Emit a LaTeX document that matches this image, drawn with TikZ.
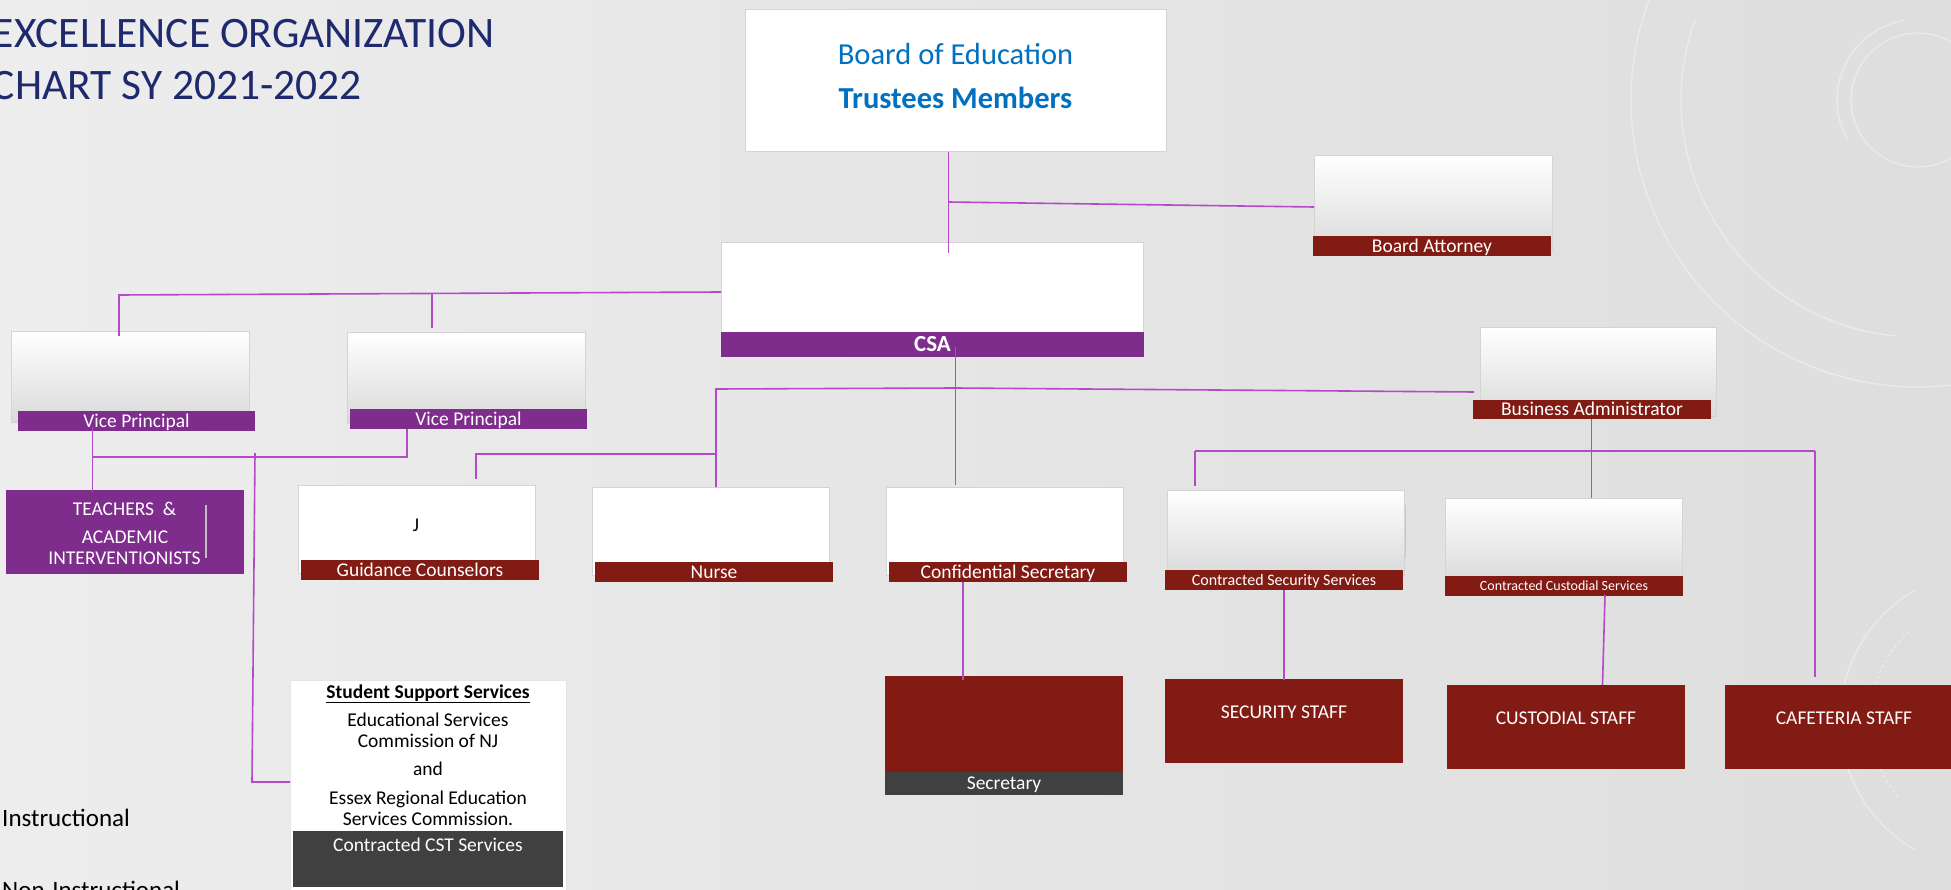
\documentclass[tikz,border=0pt]{standalone}
\usepackage{fontspec}
\setmainfont{Carlito}
\usetikzlibrary{calc}
\definecolor{chartred}{HTML}{821B14}
\definecolor{chartpurple}{HTML}{7F2D8D}
\definecolor{linkline}{HTML}{B54AC9}
\definecolor{titlenavy}{HTML}{1F2A6E}
\definecolor{boardblue}{HTML}{0070C0}
\definecolor{boxedge}{HTML}{D4D4D4}
\definecolor{gradlow}{HTML}{DADADA}
\definecolor{darkbar}{HTML}{404040}
\newcommand\fsize[1]{\fontsize{#1}{#1}\selectfont}
\tikzset{
  conn/.style={draw=linkline, line width=1.6pt},
  plainbox/.style={draw=boxedge, line width=1pt, fill=white, inner sep=0pt, outer sep=0pt},
  gradbox/.style={draw=boxedge, line width=1pt, top color=white, bottom color=gradlow, inner sep=0pt, outer sep=0pt},
  barlabel/.style={inner sep=0pt, outer sep=0pt, text=white, font=\fsize{19.5}, text height=12.6pt, text depth=0pt},
  redbar/.style={barlabel, fill=chartred},
  purplebar/.style={barlabel, fill=chartpurple},
  redblock/.style={fill=chartred, inner sep=0pt, outer sep=0pt},
  whitetext/.style={text=white, font=\fsize{19.5}, inner sep=0pt},
  darktext/.style={text=black, font=\fsize{19.5}, inner sep=0pt},
  deco/.style={draw=white, opacity=0.35, line width=1.5pt},
}
\begin{document}
\begin{tikzpicture}[x=1pt,y=-1pt]
\useasboundingbox (0,0) rectangle (1951,890);
% backdrop
\shade[left color=black!7, right color=black!13] (0,0) rectangle (1951,890);
\draw[deco] (1918,100) circle[radius=67];
\draw[deco] (1918,100) circle[radius=287];
\draw[deco] (1918,100) ++(150:81) arc[start angle=150, end angle=260, radius=81];
\draw[deco] (1918,100) ++(95:237) arc[start angle=95, end angle=200, radius=237];
\draw[deco] (1990,720) ++(120:150) arc[start angle=120, end angle=240, radius=150];
\draw[deco, dashed] (1990,720) ++(140:120) arc[start angle=140, end angle=230, radius=120];

% title
\node[anchor=base east, text=titlenavy, font=\fsize{43.5}, inner sep=0pt] (title1) at (495,48) {EXCELLENCE ORGANIZATION};
\node[anchor=base east, text=titlenavy, font=\fsize{43.5}, inner sep=0pt] (title2) at (362,100) {CHART SY 2021-2022};

% legend words
\node[anchor=base west, darktext, font=\fsize{25}] (instr) at (2,826) {Instructional};
\node[anchor=base west, darktext, font=\fsize{25}] (noninstr) at (2,898) {Non-Instructional};

% board
\node[plainbox, minimum width=421pt, minimum height=142pt] (board) at (955.5,81) {};
\node[anchor=base, text=boardblue, font=\fsize{30.5}, inner sep=0pt] (boardT1) at (955.5,65) {Board of Education};
\node[anchor=base, text=boardblue, font=\fsize{30.5}\bfseries, inner sep=0pt] (boardT2) at (955.5,109) {Trustees Members};

% board attorney
\node[gradbox, minimum width=238pt, minimum height=94pt] (attBox) at (1433,203) {};
\node[redbar, minimum width=238pt, minimum height=20pt] (attBar) at (1432,246) {Board Attorney};

% CSA
\node[plainbox, minimum width=422pt, minimum height=97pt] (csaBox) at (932,291.5) {};
\node[purplebar, minimum width=423pt, minimum height=25pt, font=\fsize{23}\bfseries, text height=14.8pt] (csaBar) at (932.5,344.5) {CSA};

% vice principals
\node[gradbox, minimum width=238pt, minimum height=90pt] (vp1Box) at (130,377) {};
\node[purplebar, minimum width=237pt, minimum height=20pt] (vp1Bar) at (136.5,421) {Vice Principal};
\node[gradbox, minimum width=238pt, minimum height=90pt] (vp2Box) at (466,378) {};
\node[purplebar, minimum width=237pt, minimum height=20pt] (vp2Bar) at (468.5,419) {Vice Principal};

% business administrator
\node[gradbox, minimum width=236pt, minimum height=88pt] (baBox) at (1598,372) {};
\node[redbar, minimum width=238pt, minimum height=19pt] (baBar) at (1592,409.5) {Business Administrator};

% teachers
\node[fill=chartpurple, minimum width=238pt, minimum height=84pt, inner sep=0pt, outer sep=0pt] (teach) at (125,532) {};
\node[anchor=base, whitetext] (teachT1) at (124.5,515) {TEACHERS\ \ \&};
\node[anchor=base, whitetext] (teachT2) at (125,543) {ACADEMIC};
\node[anchor=base, whitetext] (teachT3) at (124.5,564) {INTERVENTIONISTS};
\draw[draw=black!25, line width=1.2pt] ($(teach.north west)+(200,15)$) -- ($(teach.north west)+(200,68)$);

% second row under CSA
\node[plainbox, minimum width=237pt, minimum height=88pt] (guidBox) at (416.5,529) {};
\node[anchor=base, darktext] (guidJ) at (416,531) {J};
\node[redbar, minimum width=238pt, minimum height=20pt] (guidBar) at (420,570) {Guidance Counselors};
\node[plainbox, minimum width=237pt, minimum height=88pt] (nurseBox) at (710.5,531) {};
\node[redbar, minimum width=238pt, minimum height=20pt] (nurseBar) at (714,572) {Nurse};
\node[plainbox, minimum width=237pt, minimum height=88pt] (confBox) at (1004.5,531) {};
\node[redbar, minimum width=238pt, minimum height=20pt] (confBar) at (1008,572) {Confidential Secretary};

% contracted services
\node[gradbox, minimum width=237pt, minimum height=85pt] (secBox) at (1285.5,532.5) {};
\draw[draw=black!22, line width=1.2pt] ($(secBox.north east)+(1.5,15)$) -- ($(secBox.north east)+(1.5,68)$);
\node[redbar, minimum width=238pt, minimum height=20pt, font=\fsize{16}, text height=10.3pt] (secBar) at (1284,580) {Contracted Security Services};
\node[gradbox, minimum width=237pt, minimum height=84pt] (custBox) at (1563.5,540) {};
\node[redbar, minimum width=238pt, minimum height=20pt, font=\fsize{14}, text height=9pt] (custBar) at (1564,586) {Contracted Custodial Services};

% staff row
\node[redblock, minimum width=238pt, minimum height=96pt] (secretary) at (1004,724) {};
\node[barlabel, fill=darkbar, minimum width=238pt, minimum height=23pt] (secretaryBar) at (1004,783.5) {Secretary};
\node[redblock, minimum width=238pt, minimum height=84pt] (secStaff) at (1284,721) {};
\node[anchor=base, whitetext] (secStaffT) at (1284,718) {SECURITY STAFF};
\node[redblock, minimum width=238pt, minimum height=84pt] (custStaff) at (1566,727) {};
\node[anchor=base, whitetext] (custStaffT) at (1566,724) {CUSTODIAL STAFF};
\node[redblock, minimum width=238pt, minimum height=84pt] (cafStaff) at (1844,727) {};
\node[anchor=base, whitetext] (cafStaffT) at (1844,724) {CAFETERIA STAFF};

% student support services
\node[plainbox, draw=black!10, minimum width=276pt, minimum height=225pt] (sss) at (428,792.5) {};
\node[fill=darkbar, minimum width=270pt, minimum height=56pt, inner sep=0pt, outer sep=0pt] (sssBar) at (428,859) {};
\node[anchor=base, darktext, font=\fsize{19.5}\bfseries] (sssT0) at (428,698) {\underline{Student Support Services}};
\node[anchor=base, darktext] (sssT1) at (428,726) {Educational Services};
\node[anchor=base, darktext] (sssT2) at (428,747) {Commission of NJ};
\node[anchor=base, darktext] (sssT3) at (428,775) {and};
\node[anchor=base, darktext] (sssT4) at (428,804) {Essex Regional Education};
\node[anchor=base, darktext] (sssT5) at (428,825) {Services Commission.};
\node[anchor=base, whitetext] (sssT6) at (428,851) {Contracted CST Services};

% junction points of the connector buses
\coordinate (bj) at (948.6,202);
\coordinate (lj) at (119,295);
\coordinate (lj2) at (432,294);
\coordinate (cj) at (955.5,388);
\coordinate (nj) at (716,389);
\coordinate (gj) at (716,454);
\coordinate (gk) at (476,454);
\coordinate (tj) at (92.5,457);
\coordinate (vj) at (407,457);
\coordinate (sj) at (255,453);
\coordinate (sk) at (252,782);
\coordinate (sc) at (963,630);
\coordinate (bj2) at (1591.6,451);
\coordinate (sw) at (1195,451);
\coordinate (se) at (1815,451);
\coordinate (ss) at (1284,630);

% connectors
\draw[conn] (board.south -| bj) -- ($(csaBox.north -| bj)+(0,10)$);
\draw[conn] (bj) -- ($(attBox.west)+(0,4)$);
\draw[conn] ($(csaBox.west)+(0,0.5)$) -- (lj) -- ($(vp1Box.north -| lj)+(0,4)$);
\draw[conn] (lj2) -- ($(vp2Box.north -| lj2)+(0,-5)$);
\draw[conn] ($(csaBar.south -| cj)+(0,-10)$) -- ($(confBox.north -| cj)+(0,-2)$);
\draw[conn] (cj) -- (nj) -- (nurseBox.north -| nj);
\draw[conn] (gj) -- (gk) -- ($(guidBox.north -| gk)+(0,-6)$);
\draw[conn] (cj) -- ($(baBar.north west)+(1,-8)$);
\draw[conn] ($(vp1Bar.south -| tj)+(0,-4)$) -- ($(teach.north -| tj)+(0,2)$);
\draw[conn] (tj) -- (vj) -- (vp2Bar.south -| vj);
\draw[conn] (sj) -- (sk) -- (sk -| sss.west);
\draw[conn] (confBar.south -| sc) -- ($(secretary.north -| sc)+(0,4)$);
\draw[conn] (baBar.south -| bj2) -- (custBox.north -| bj2);
\draw[conn] (sw) -- (se);
\draw[conn] (sw) -- ($(secBox.north -| sw)+(0,-4)$);
\draw[conn] (se) -- ($(cafStaff.north -| se)+(0,-8)$);
\draw[conn] (secBar.south -| ss) -- ($(secStaff.north -| ss)+(0,1)$);
\draw[conn] ($(custBar.south)+(41,-1)$) -- ($(custStaff.north)+(36.5,0)$);
\end{tikzpicture}
\end{document}
